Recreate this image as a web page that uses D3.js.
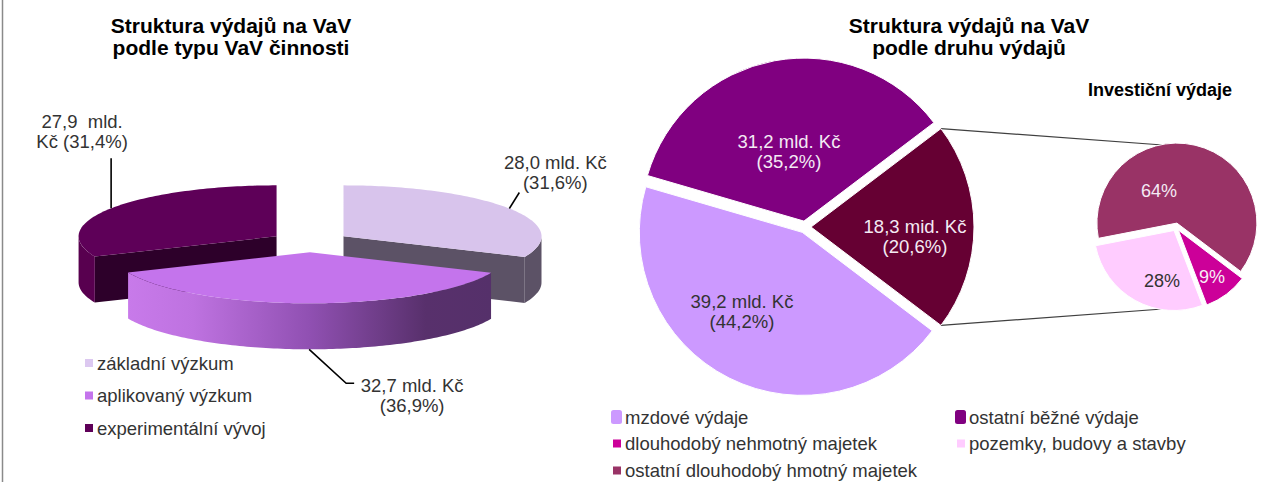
<!DOCTYPE html>
<html><head><meta charset="utf-8">
<script src="https://cdn.jsdelivr.net/npm/d3@7"></script>
<style>
html,body{margin:0;padding:0;background:#fff;}
svg{display:block;font-family:"Liberation Sans",Arial,sans-serif;}
</style></head><body>
<svg id="chart" width="1263" height="483"></svg>
<script>
// Výdaje na VaV podle typu VaV činnosti (mld. Kč, podíl v %)
const typeCategories = ["základní výzkum", "aplikovaný výzkum", "experimentální vývoj"];
const typeValues = [28.0, 32.7, 27.9];
const typeShares = [31.6, 36.9, 31.4];

// Výdaje na VaV podle druhu výdajů (mld. Kč, podíl v %)
const kindCategories = ["mzdové výdaje", "ostatní běžné výdaje", "investiční výdaje"];
const kindValues = [39.2, 31.2, 18.3];
const kindShares = [44.2, 35.2, 20.6];

// Struktura investičních výdajů (%)
const investCategories = ["dlouhodobý nehmotný majetek", "pozemky, budovy a stavby", "ostatní dlouhodobý hmotný majetek"];
const investValues = [9, 28, 64];

const svg = d3.select("#chart");
const num = v => d3.format(".1f")(v).replace(".", ",");
const pct = v => "(" + num(v) + "%)";
const TXT = "#333333";

// levý okraj rámečku
svg.append("line").attr("x1", 2.5).attr("x2", 2.5).attr("y1", 0).attr("y2", 482)
  .attr("stroke", "#8a8a8a").attr("stroke-width", 1.5);

function textLines(g, lines, x, y0, step, opts) {
  lines.forEach((t, i) => {
    g.append("text").attr("x", x).attr("y", y0 + i * step)
      .attr("text-anchor", opts.anchor || "middle")
      .attr("font-size", opts.size).attr("font-weight", opts.weight || "normal")
      .attr("fill", opts.fill || TXT).style("white-space", "pre").text(t);
  });
}

// nadpisy
textLines(svg, ["Struktura výdajů na VaV", "podle typu VaV činnosti"], 231, 33, 22, {size: 21, weight: "bold", fill: "#000"});
textLines(svg, ["Struktura výdajů na VaV", "podle druhu výdajů"], 969, 33, 22, {size: 21, weight: "bold", fill: "#000"});
textLines(svg, ["Investiční výdaje"], 1160, 96, 0, {size: 18, weight: "bold", fill: "#000"});

/* ---------- 3D koláč: typ VaV činnosti ---------- */
const typeStyle = {
  top:  ["#D8C4EC", "#C474EC", "#5E0058"],
  wall: ["#5C5266", "url(#wallGrad)", "#58004F"],
  cut:  ["#5C5266", "#7A3C99", "#2D002A"],
  key:  ["#DCC8F0", "#C474EC", "#5E0058"]
};
const G3 = {cx: 310, cy: 242, rx: 198, ry: 51, depth: 46, explode: 40};
const kk = G3.ry / G3.rx;
const typeData = typeCategories.map((c, i) => ({name: c, value: typeValues[i], share: typeShares[i], i}));
const typeArcs = d3.pie().sort(null).value(d => d.value)(typeData);

const midOf = a => (a.startAngle + a.endAngle) / 2;
const offsetOf = a => [G3.explode * Math.sin(midOf(a)), -G3.explode * kk * Math.cos(midOf(a))];
const pt = (ang, t, z, o) => [G3.cx + o[0] + t * G3.rx * Math.sin(ang), G3.cy + o[1] - t * G3.ry * Math.cos(ang) + z];
const rimPts = (a0, a1, z, o) => {
  const n = Math.max(2, Math.ceil((a1 - a0) / 0.02));
  return d3.range(n + 1).map(j => pt(a0 + (a1 - a0) * j / n, 1, z, o));
};
const line = d3.line();

const defs = svg.append("defs");
const g3 = svg.append("g");

// zadní výseče nejdřív, přední naposledy
const order = typeArcs.slice().sort((a, b) => (-Math.cos(midOf(a))) - (-Math.cos(midOf(b))));
order.forEach(a => {
  const o = offsetOf(a), i = a.data.i, D = G3.depth;
  const c0 = pt(0, 0, 0, o), c1 = pt(0, 0, D, o);
  // řezné stěny
  [[a.startAngle, Math.sin(a.startAngle) < -1e-6], [a.endAngle, Math.sin(a.endAngle) > 1e-6]].forEach(([ang, vis]) => {
    if (!vis) return;
    const p0 = pt(ang, 1, 0, o), p1 = pt(ang, 1, D, o);
    g3.append("path").attr("d", line([c0, p0, p1, c1]) + "Z").attr("fill", typeStyle.cut[i]);
  });
  // vnější plášť (jen přední polovina)
  const w0 = Math.max(a.startAngle, Math.PI / 2), w1 = Math.min(a.endAngle, 3 * Math.PI / 2);
  if (w1 > w0) {
    if (typeStyle.wall[i].startsWith("url")) {
      const xa = pt(w0, 1, 0, o)[0], xb = pt(w1, 1, 0, o)[0];
      const gr = defs.append("linearGradient").attr("id", "wallGrad").attr("gradientUnits", "userSpaceOnUse")
        .attr("x1", Math.min(xa, xb)).attr("x2", Math.max(xa, xb)).attr("y1", 0).attr("y2", 0);
      [[0, "#C87AEA"], [0.18, "#BE72E0"], [0.5, "#9050B2"], [0.82, "#58306C"], [1, "#55306A"]]
        .forEach(([off, col]) => gr.append("stop").attr("offset", off).attr("stop-color", col));
    }
    const topArc = rimPts(w0, w1, 0, o), botArc = rimPts(w0, w1, D, o).reverse();
    g3.append("path").attr("d", line(topArc.concat(botArc)) + "Z").attr("fill", typeStyle.wall[i]);
  }
  // horní plocha
  g3.append("path").attr("d", line([c0].concat(rimPts(a.startAngle, a.endAngle, 0, o))) + "Z")
    .attr("fill", typeStyle.top[i]);
});

// popisky s odkazovými čarami
const lab3 = svg.append("g");
typeArcs.forEach(a => {
  const o = offsetOf(a), i = a.data.i, m = midOf(a);
  const valTxt = num(a.data.value);
  if (i === 0) { // základní výzkum – vpravo nahoře
    const p = pt(m, 1, 0, o);
    lab3.append("path").attr("d", line([p, [p[0] + 10, p[1] - 16]])).attr("stroke", "#000").attr("stroke-width", 1.6).attr("fill", "none");
    textLines(lab3, [valTxt + " mld. Kč", pct(a.data.share)], p[0] + 46, p[1] - 40, 20, {size: 18.5});
  } else if (i === 1) { // aplikovaný výzkum – dole
    const p = pt(m, 1, G3.depth, o);
    lab3.append("path").attr("d", line([p, [p[0] + 37, p[1] + 34], [p[0] + 45, p[1] + 34]])).attr("stroke", "#000").attr("stroke-width", 1.6).attr("fill", "none");
    textLines(lab3, [valTxt + " mld. Kč", pct(a.data.share)], p[0] + 103, p[1] + 43, 20, {size: 18.5});
  } else { // experimentální vývoj – vlevo nahoře
    const p = pt(m, 1, 0, o);
    lab3.append("path").attr("d", line([p, [p[0], p[1] - 50]])).attr("stroke", "#000").attr("stroke-width", 1.6).attr("fill", "none");
    textLines(lab3, [valTxt + "  mld.", "Kč " + pct(a.data.share)], p[0] - 29, p[1] - 80, 20, {size: 18.5});
  }
});

// legenda vlevo
const leg1 = svg.append("g");
typeCategories.forEach((c, i) => {
  const y = 363 + i * 32.5;
  leg1.append("rect").attr("x", 85).attr("y", y - 4).attr("width", 8).attr("height", 8).attr("fill", typeStyle.key[i]);
  leg1.append("text").attr("x", 97).attr("y", y + 6.5).attr("font-size", 18.5).attr("fill", TXT).text(c);
});

/* ---------- koláč z koláče: druh výdajů ---------- */
const kindColors = ["#CC99FF", "#800080", "#660033"];
const kindText = [TXT, "#F4EAF4", "#F4EAF4"];
const investColors = ["#CC0099", "#FFCCFF", "#993366"];
const investText = ["#F8EEF6", TXT, "#F4EAF4"];

const KC = {cx: 805, cy: 227, r: 163, explode: 6};
const SC = {cx: 1176, cy: 227, r: 80, explode: 4};

const kindData = kindCategories.map((c, i) => ({name: c, value: kindValues[i], share: kindShares[i], i}));
const invAng = 2 * Math.PI * kindValues[2] / d3.sum(kindValues);
const start = Math.PI / 2 + invAng / 2; // investiční výseč je natočena vpravo
const kindArcs = d3.pie().sort(null).value(d => d.value).startAngle(start).endAngle(start + 2 * Math.PI)(kindData);
const investData = investCategories.map((c, i) => ({name: c, value: investValues[i], i}));
const investArcs = d3.pie().sort(null).value(d => d.value).startAngle(start).endAngle(start + 2 * Math.PI)(investData);

const apex = (a, C) => {
  const m = midOf(a);
  return [C.cx + C.explode * Math.sin(m), C.cy - C.explode * Math.cos(m)];
};

// spojnice mezi koláči
const inv = kindArcs[2], ia = apex(inv, KC);
const rim = ang => [ia[0] + KC.r * Math.sin(ang), ia[1] - KC.r * Math.cos(ang)];
svg.append("path").attr("d", line([rim(inv.startAngle), [SC.cx, SC.cy - SC.r - 1]]))
  .attr("stroke", "#404040").attr("stroke-width", 1.2).attr("fill", "none");
svg.append("path").attr("d", line([rim(inv.endAngle), [SC.cx, SC.cy + SC.r + 1]]))
  .attr("stroke", "#404040").attr("stroke-width", 1.2).attr("fill", "none");

const mainArc = d3.arc().innerRadius(0).outerRadius(KC.r);
const gMain = svg.append("g");
kindArcs.forEach(a => {
  const p = apex(a, KC);
  gMain.append("path").attr("transform", `translate(${p[0]},${p[1]})`).attr("d", mainArc(a))
    .attr("fill", kindColors[a.data.i]).attr("stroke", "#fff").attr("stroke-width", 1);
});
const kindLabelAt = [[-63, 83], [-16, -77], [110, 8]];
kindArcs.forEach(a => {
  const i = a.data.i, [dx, dy] = kindLabelAt[i];
  const first = num(a.data.value) + (i === 2 ? " mid. Kč" : " mld. Kč");
  textLines(gMain, [first, pct(a.data.share)], KC.cx + dx, KC.cy + dy - 2, 19.5, {size: 18.5, fill: kindText[i]});
});

const secArc = d3.arc().innerRadius(0).outerRadius(SC.r);
const gSec = svg.append("g");
investArcs.forEach(a => {
  const p = apex(a, SC);
  gSec.append("path").attr("transform", `translate(${p[0]},${p[1]})`).attr("d", secArc(a))
    .attr("fill", investColors[a.data.i]).attr("stroke", "#fff").attr("stroke-width", 1);
});
const investLabelAt = [[36, 49], [-14, 53], [-17, -37]];
investArcs.forEach(a => {
  const i = a.data.i, [dx, dy] = investLabelAt[i];
  textLines(gSec, [a.data.value + "%"], SC.cx + dx, SC.cy + dy + 6.5, 0, {size: 18, fill: investText[i]});
});

// legenda vpravo
const legItems = [
  {name: kindCategories[0], color: kindColors[0], big: true},
  {name: kindCategories[1], color: kindColors[1], big: true},
  {name: investCategories[0], color: investColors[0]},
  {name: investCategories[1], color: investColors[1]},
  {name: investCategories[2], color: investColors[2]}
];
const leg2 = svg.append("g");
legItems.forEach((d, i) => {
  const x = [611, 955][i % 2], y = [417, 443.5, 470.5][Math.floor(i / 2)];
  if (d.big) leg2.append("rect").attr("x", x).attr("y", y - 7).attr("width", 11).attr("height", 14).attr("rx", 2.5).attr("fill", d.color);
  else leg2.append("rect").attr("x", x + 2).attr("y", y - 4).attr("width", 8).attr("height", 8).attr("fill", d.color);
  leg2.append("text").attr("x", x + 14).attr("y", y + 6.5).attr("font-size", 18.5).attr("fill", TXT).text(d.name);
});
</script>
</body></html>
